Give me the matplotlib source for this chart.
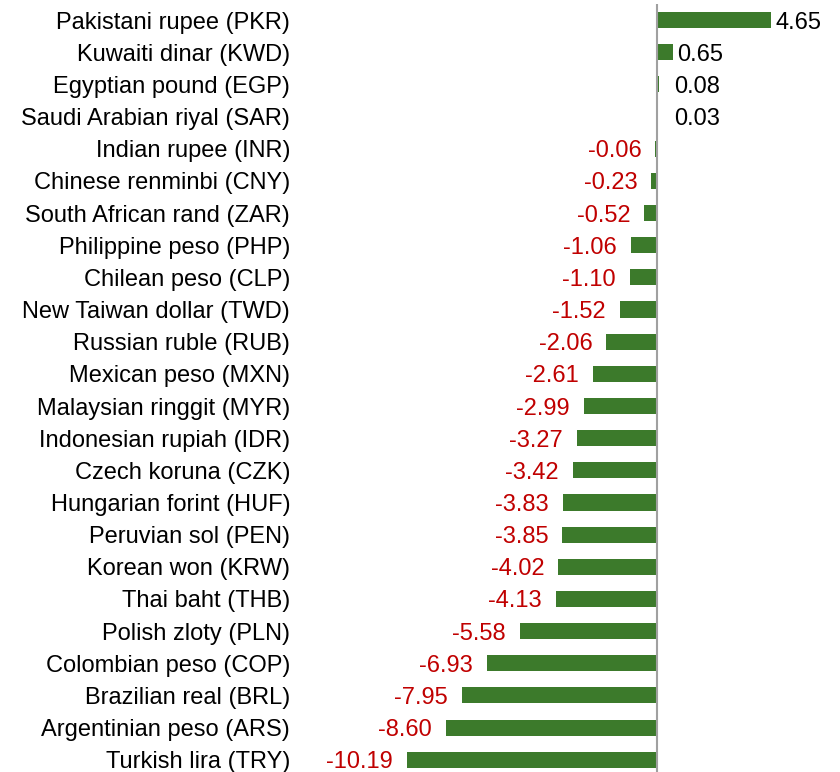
import matplotlib.pyplot as plt
import numpy as np

# Currency change vs USD (%)
currencies = ['Pakistani rupee (PKR)', 'Kuwaiti dinar (KWD)', 'Egyptian pound (EGP)',
              'Saudi Arabian riyal (SAR)', 'Indian rupee (INR)', 'Chinese renminbi (CNY)',
              'South African rand (ZAR)', 'Philippine peso (PHP)', 'Chilean peso (CLP)',
              'New Taiwan dollar (TWD)', 'Russian ruble (RUB)', 'Mexican peso (MXN)',
              'Malaysian ringgit (MYR)', 'Indonesian rupiah (IDR)', 'Czech koruna (CZK)',
              'Hungarian forint (HUF)', 'Peruvian sol (PEN)', 'Korean won (KRW)',
              'Thai baht (THB)', 'Polish zloty (PLN)', 'Colombian peso (COP)',
              'Brazilian real (BRL)', 'Argentinian peso (ARS)', 'Turkish lira (TRY)']
changes = [4.65, 0.65, 0.08, 0.03, -0.06, -0.23, -0.52, -1.06, -1.10, -1.52, -2.06, -2.61,
           -2.99, -3.27, -3.42, -3.83, -3.85, -4.02, -4.13, -5.58, -6.93, -7.95, -8.60, -10.19]

plt.rcParams['font.family'] = ['Liberation Sans', 'DejaVu Sans']
fs = 17

fig = plt.figure(figsize=(8.4, 7.72), dpi=100)
ax = fig.add_axes([0.357, 0.0, 0.631, 0.9948])

y = np.arange(len(currencies))
ax.barh(y, changes, height=0.5, color='#3c7a2b')
ax.axvline(0, color='#a0a0a0', lw=1.5)

ax.set_xlim(-14.55, 7.05)
ax.set_ylim(23.38, -0.5)
ax.set_yticks(y)
ax.set_yticklabels(currencies, fontsize=fs)
ax.tick_params(axis='y', length=0, pad=7)
ax.set_xticks([])
for s in ax.spines.values():
    s.set_visible(False)

for yi, v in zip(y, changes):
    if v >= 0:
        ax.annotate(f'{v:.2f}', (max(v, 0.55), yi), xytext=(3, 0), textcoords='offset points',
                    ha='left', va='center_baseline', fontsize=fs, color='black')
    else:
        ax.annotate(f'{v:.2f}', (v, yi), xytext=(-10, 0), textcoords='offset points',
                    ha='right', va='center_baseline', fontsize=fs, color='#c00000')

fig.savefig('out.png', dpi=100)
